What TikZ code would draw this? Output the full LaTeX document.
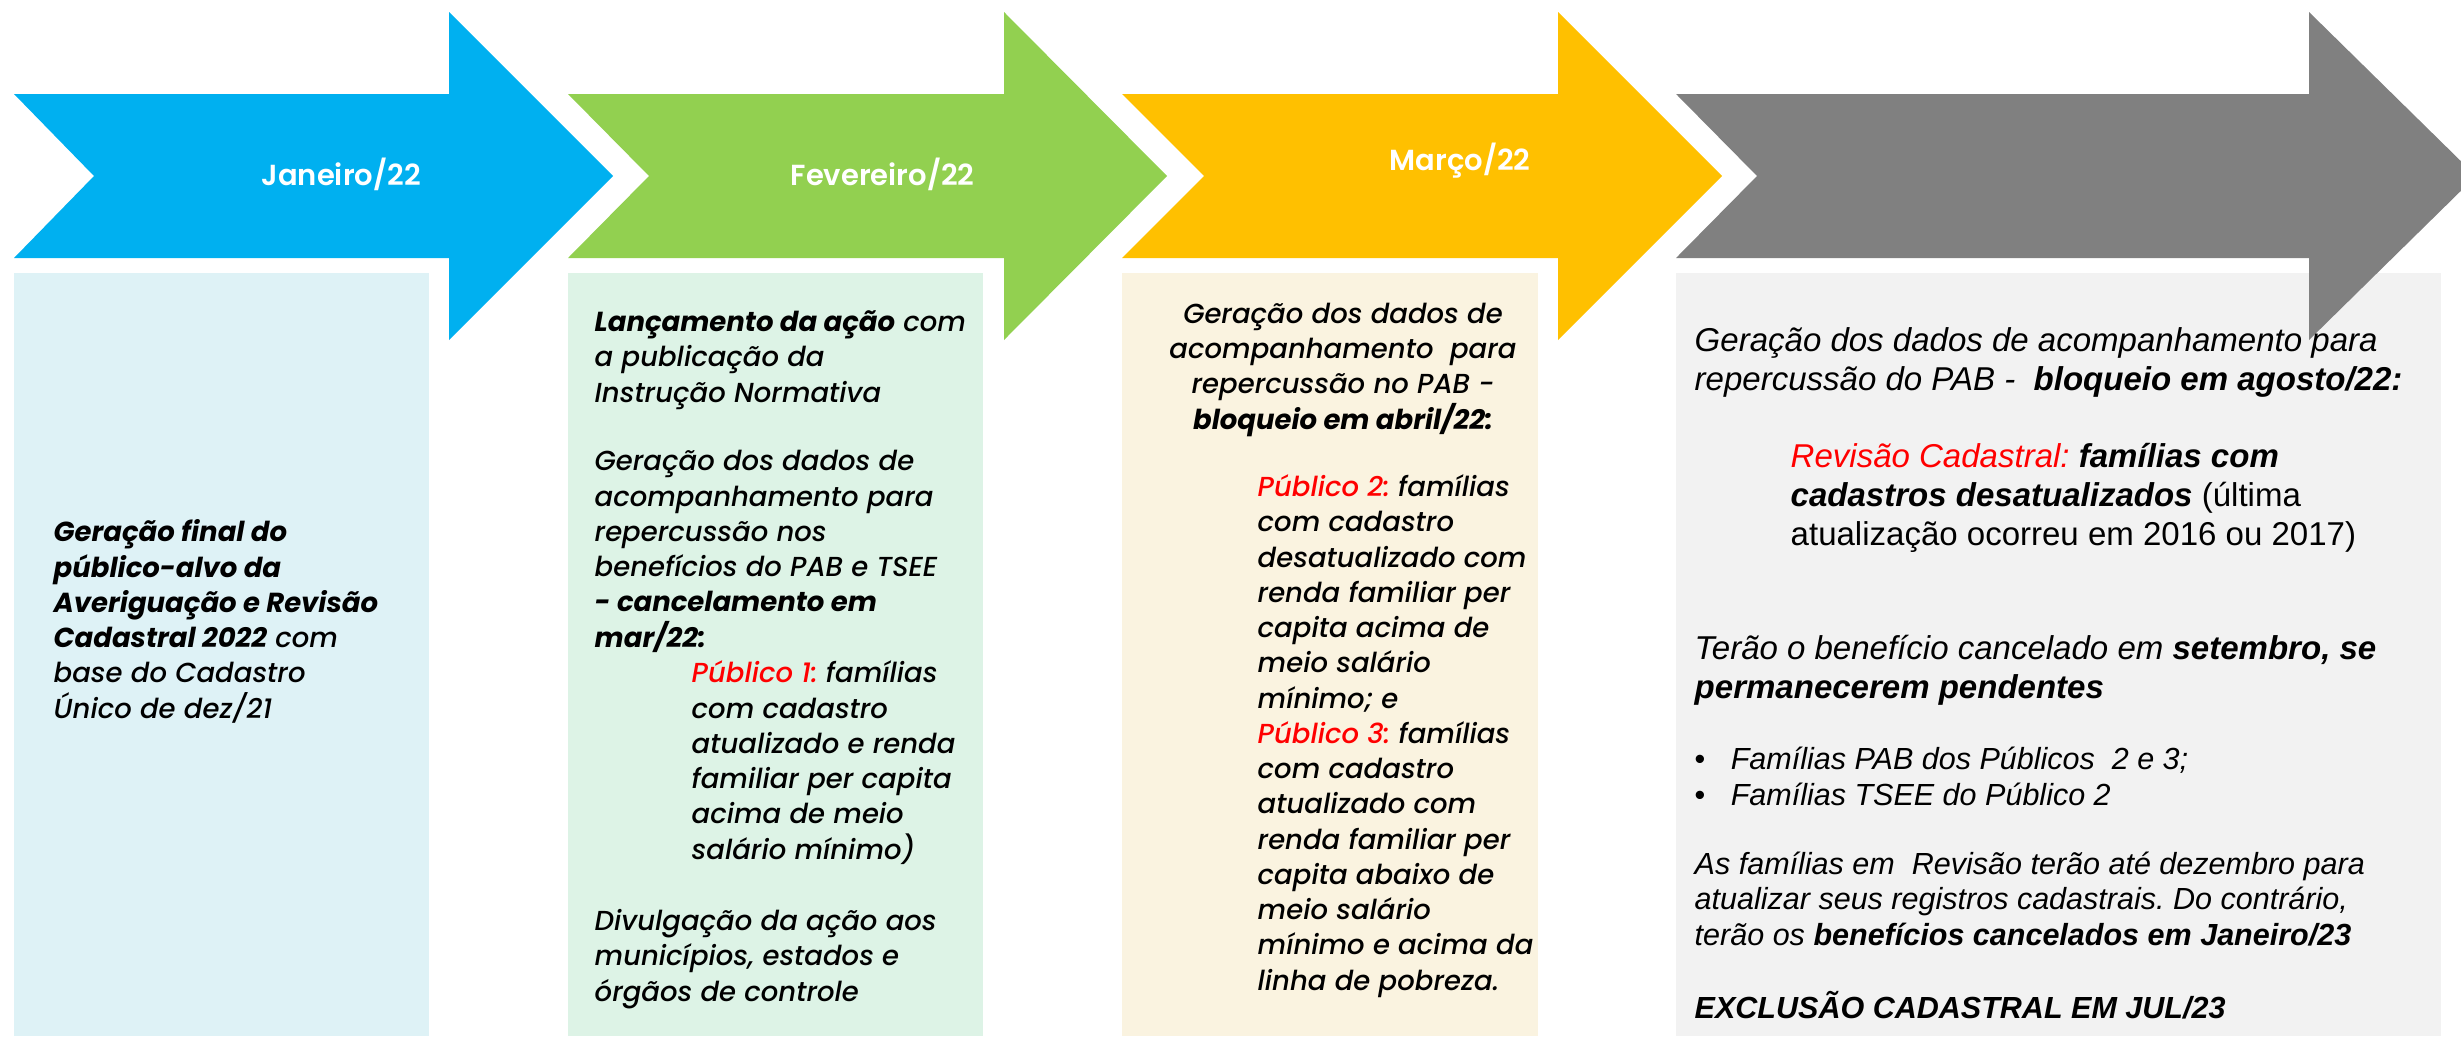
\documentclass[tikz,border=0pt]{standalone}
\usepackage{fontspec}
\setmainfont{Poppins}[ItalicFont={* Medium Italic}, BoldItalicFont={* Bold Italic}]
\newfontfamily\monthfont{Poppins}[UprightFont=* SemiBold]
\newfontfamily\augfont{Liberation Sans}
\usetikzlibrary{positioning}
\frenchspacing

\definecolor{janBlue}{HTML}{00B0F0}
\definecolor{febGreen}{HTML}{92D050}
\definecolor{marGold}{HTML}{FFC000}
\definecolor{augGray}{HTML}{808080}
\definecolor{janPanel}{HTML}{DEF2F6}
\definecolor{febPanel}{HTML}{DDF3E6}
\definecolor{marPanel}{HTML}{FAF3E0}
\definecolor{augPanel}{HTML}{F2F2F2}
\definecolor{pubRed}{HTML}{FF0000}

\begin{document}
\begin{tikzpicture}[
        x=0.01cm, y=-0.01cm,
        stage/.style={fill=#1},
        panel/.style={fill=#1},
        month/.style={
            inner sep=0, anchor=base west, text=white, font={\monthfont\fontsize{8.25pt}{10pt}\selectfont}
        },
        body/.style={
            inner sep=0, anchor=base west, align=left, font={\fontsize{7.82pt}{10.02pt}\selectfont\itshape}
        },
        augBig/.style={
            inner sep=0, anchor=base west, align=left, font={\augfont\fontsize{9.39pt}{10.95pt}\selectfont\itshape}
        },
        augSmall/.style={
            inner sep=0, anchor=base west, align=left, font={\augfont\fontsize{8.68pt}{9.96pt}\selectfont\itshape}
        },
    ]
    \useasboundingbox (0,0) rectangle (2461,1036);
    \clip (0,0) rectangle (2461,1036);

    % panels under the arrows
    \fill[panel=janPanel] (14,273) rectangle (429,1036);
    \fill[panel=febPanel] (568,273) rectangle (983,1036);
    \fill[panel=marPanel] (1122,273) rectangle (1538,1036);
    \fill[panel=augPanel] (1676,273) rectangle (2441,1036);

    % chevrons
    \fill[stage=janBlue] (14,94) -- (449,94) -- (449,12) -- (613,176) -- (449,340) -- (449,258) -- (14,258) -- (94,176) -- cycle;
    \fill[stage=febGreen] (568,94) -- (1004,94) -- (1004,12) -- (1167,176) -- (1004,340) -- (1004,258) -- (568,258) -- (649,176) -- cycle;
    \fill[stage=marGold] (1122,94) -- (1558,94) -- (1558,12) -- (1722,176) -- (1558,340) -- (1558,258) -- (1122,258) -- (1204,176) -- cycle;
    \fill[stage=augGray] (1676,94) -- (2309,94) -- (2309,12) -- (2476,176) -- (2309,340) -- (2309,258) -- (1676,258) -- (1757,176) -- cycle;

    \node (janMonth) [month] at (261,185) {Janeiro/22};
    \node (febMonth) [month] at (790,185) {Fevereiro/22};
    \node (marMonth) [month] at (1389,170) {Março/22};

    % multi-line nodes sit on the baseline of their last line
    \node (janText) [body] at (53,718) {
        \textbf{Geração final do} \\ \textbf{público-alvo da} \\ \textbf{Averiguação e Revisão} \\
        \textbf{Cadastral 2022} com \\ base do Cadastro \\ Único de dez/21
    };

    \node (febLaunch) [body] at (594,402) {\textbf{Lançamento da ação} com \\ a publicação da \\ Instrução Normativa};
    \node (febData) [body] at (594,647) {
        Geração dos dados de \\ acompanhamento para \\ repercussão nos \\ benefícios do PAB e TSEE \\
        \textbf{- cancelamento em} \\ \textbf{mar/22:}
    };
    \node (febPublic) [body] at (691,859) {
        \textcolor{pubRed}{Público 1:} famílias \\ com cadastro \\ atualizado e renda \\ familiar per capita \\
        acima de meio \\ salário mínimo)
    };
    \node (febNotice) [body] at (594,1001) {Divulgação da ação aos \\ municípios, estados e \\ órgãos de controle};

    \node (marHead) [body, anchor=base, align=center] at (1343,429) {
        Geração dos dados de \\ acompanhamento\ \ para \\ repercussão no PAB - \\ \textbf{bloqueio em abril/22:}
    };
    \node (marPublic) [body] at (1257,990) {
        \textcolor{pubRed}{Público 2:} famílias \\ com cadastro \\ desatualizado com \\ renda familiar per \\
        capita acima de \\ meio salário \\ mínimo; e \\ \textcolor{pubRed}{Público 3:} famílias \\ com cadastro \\
        atualizado com \\ renda familiar per \\ capita abaixo de \\ meio salário \\ mínimo e acima da \\
        linha de pobreza.
    };

    \node (augHead) [augBig] at (1694,390) {
        Geração dos dados de acompanhamento para \\ repercussão do PAB -\ \ \textbf{bloqueio em agosto/22:}
    };
    \node (augReview) [augBig] at (1790,545) {
        \textcolor{pubRed}{Revisão Cadastral:} \textbf{famílias com} \\ \textbf{cadastros desatualizados} {\upshape(última} \\
        {\upshape atualização ocorreu em 2016 ou 2017)}
    };
    \node (augCancel) [augBig] at (1694,698) {Terão o benefício cancelado em \textbf{setembro, se} \\ \textbf{permanecerem pendentes}};
    \node (augList) [augSmall] at (1694,805) {
        \makebox[0.36cm][l]{\upshape\textbullet}Famílias PAB dos Públicos\ \ 2 e 3; \\
        \makebox[0.36cm][l]{\upshape\textbullet}Famílias TSEE do Público 2
    };
    \node (augDeadline) [augSmall] at (1694,945) {
        As famílias em\ \ Revisão terão até dezembro para \\ atualizar seus registros cadastrais. Do contrário, \\
        terão os \textbf{benefícios cancelados em Janeiro/23}
    };
    \node (augExclusion) [augSmall] at (1694,1018) {\textbf{EXCLUSÃO CADASTRAL EM JUL/23}};

\end{tikzpicture}
\end{document}
